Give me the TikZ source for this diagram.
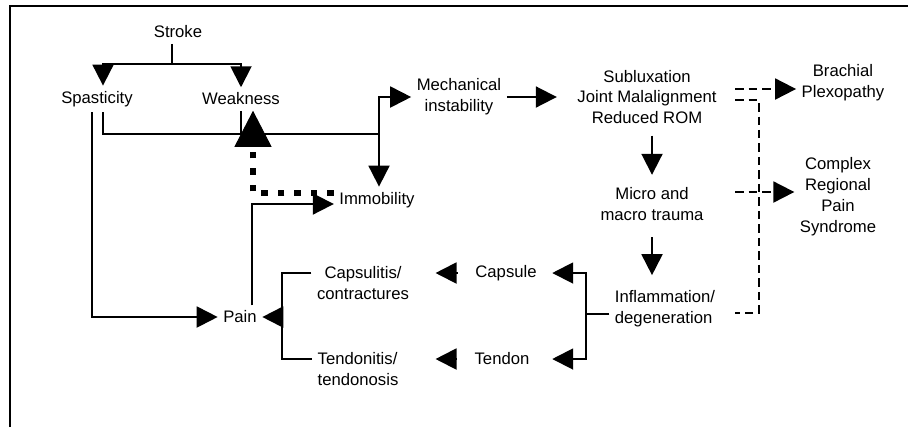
\documentclass[tikz,border=0pt]{standalone}
\usepackage{fontspec}
\setmainfont{Liberation Sans}
\usetikzlibrary{arrows.meta,positioning,calc}
\tikzset{
  txt/.style={align=center,font=\fontsize{9.5}{11.9}\selectfont,inner sep=3pt},
  ln/.style={line width=1.1pt},
  arr/.style={ln,-{Triangle[length=0.42cm,width=0.42cm]}},
  dln/.style={ln,dash pattern=on 0.17cm off 0.1cm},
  darr/.style={dln,-{Triangle[length=0.42cm,width=0.42cm]}},
  dotarr/.style={line width=0.13cm,dash pattern=on 0.13cm off 0.2cm,-{Triangle[length=0.72cm,width=0.74cm,line width=0.5pt]}},
  frame/.style={line width=1.2pt}
}
\begin{document}
\begin{tikzpicture}[x=0.02cm,y=-0.02cm]
  \useasboundingbox (0,0) rectangle (908,427);
  % Frame
  \draw[frame] (10,427) -- (10,6) -- (908,6);

  % Stroke and its two effects
  \node[txt] (stroke) at (178,32) {Stroke};
  \node[txt] (spas) at (97,99) {Spasticity};
  \node[txt] (weak) at (241,99) {Weakness};
  \coordinate (fork) at (172,64);
  \draw[ln] (stroke.south -| fork) -- (fork);
  \draw[arr] (fork) -| ([xshift=0.12cm]spas.north);
  \draw[arr] (fork) -| (weak.north);

  % Mechanical chain
  \node[txt] (mech) at (459,97) {Mechanical\\instability};
  \node[txt] (sublux) at (647,97) {Subluxation\\Joint Malalignment\\Reduced ROM};
  \node[txt] (micro) at (652,204) {Micro and\\macro trauma};
  \node[txt,align=left] (inflam) at (665,309) {Inflammation/\\degeneration};
  \draw[arr,shorten >=0.3cm] (mech.east) -- (mech.east -| sublux.west);
  \draw[arr,shorten <=0.12cm,shorten >=0.14cm] (micro.north |- sublux.south) -- (micro.north);
  \draw[arr,shorten <=0.22cm,shorten >=0.2cm] (micro.south) -- (micro.south |- inflam.north);

  % Common path of spasticity and weakness
  \node[txt] (immob) at (377,200) {Immobility};
  \coordinate (bus) at (379,134);
  \draw[ln] ([xshift=0.12cm]spas.south) |- (bus);
  \draw[ln] (weak.south) -- (weak.south |- bus);
  \draw[arr] (bus) |- (mech.west);
  \draw[arr] (bus) -- (bus |- immob.north);

  % Pain loop
  \node[txt] (pain) at (240,317) {Pain};
  \draw[arr] ([xshift=-0.1cm]spas.south) |- (pain.west);
  \draw[arr] ([xshift=0.24cm]pain.north) |- ([yshift=-0.08cm]immob.west);
  \draw[dotarr] ([yshift=0.14cm]immob.west) -| ([xshift=0.24cm]weak.south);

  % Capsule and tendon
  \node[txt] (capsule) at (506,273) {Capsule};
  \node[txt] (tendon) at (502,359) {Tendon};
  \node[txt] (capsulitis) at (363,283) {Capsulitis/\\contractures};
  \node[txt,align=left] (tendinitis) at (358,369) {Tendonitis/\\tendonosis};
  \coordinate (ib) at (586,314);
  \draw[ln] (inflam.west |- ib) -- (ib);
  \draw[arr,shorten >=0.2cm] (ib) |- (capsule.east);
  \draw[arr,shorten >=0.2cm] (ib) |- (tendon.east -| capsule.east);
  \draw[arr,shorten <=0.24cm,shorten >=0.42cm] (capsule.west) -- (capsule.west -| capsulitis.east);
  \draw[arr,shorten <=0.24cm,shorten >=0.42cm] (tendon.west) -- (tendon.west -| capsulitis.east);
  \coordinate (pb) at (282,317);
  \draw[ln] (capsulitis.west |- capsule) -| (pb) |- (tendinitis.west |- tendon);
  \draw[arr] (pb) -- (pain.east);

  % Complications
  \node[txt] (brach) at (843,83) {Brachial\\Plexopathy};
  \node[txt] (crps) at (838,197) {Complex\\Regional\\Pain\\Syndrome};
  \coordinate (dbr) at (735,89);
  \coordinate (dtop) at (735,100);
  \coordinate (dcr) at (735,192);
  \coordinate (dbot) at (735,313);
  \coordinate (dcol) at (759,100);
  \draw[darr] (dbr) -- (dbr -| brach.west);
  \draw[dln] (dtop) -- (dcol) |- (dbot);
  \draw[darr] (dcr) -- (dcr -| crps.west);
\end{tikzpicture}
\end{document}
